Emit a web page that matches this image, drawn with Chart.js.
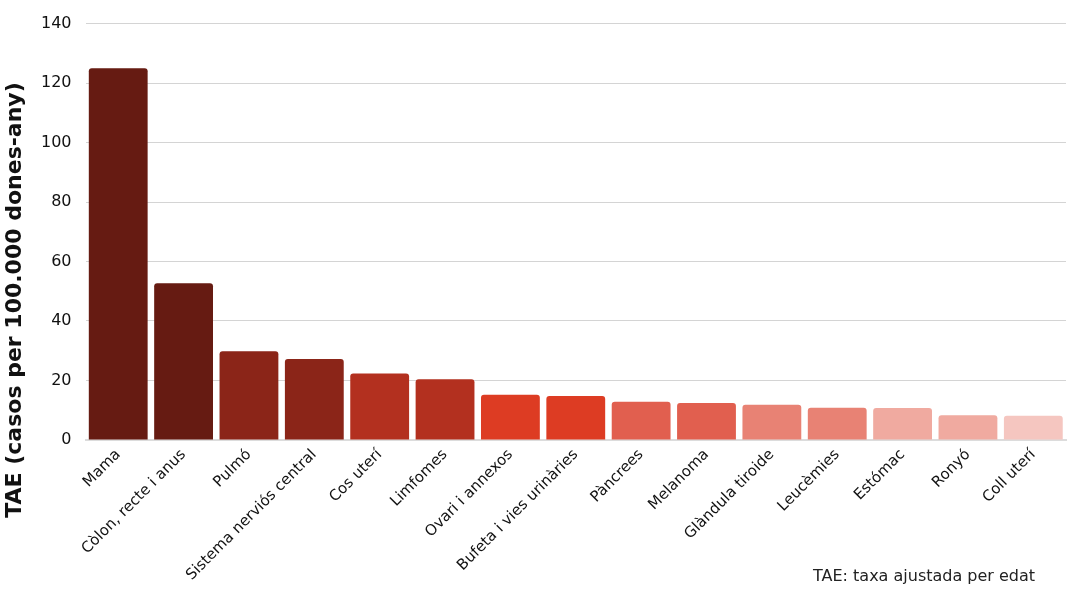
<!DOCTYPE html>
<html>
<head>
<meta charset="utf-8">
<script src="https://cdn.jsdelivr.net/npm/chart.js@4"></script>
<style>
  html, body { margin: 0; padding: 0; background: #fff; }
  #wrap { width: 1080px; height: 600px; position: relative; }
</style>
</head>
<body>
<div id="wrap"><canvas id="myChartTAE"></canvas></div>
<script>
/* global Chart */
const categories = ["Mama", "Còlon, recte i anus", "Pulmó", "Sistema nerviós central", "Cos uterí", "Limfomes", "Ovari i annexos", "Bufeta i vies urinàries", "Pàncrees", "Melanoma", "Glàndula tiroide", "Leucèmies", "Estómac", "Ronyó", "Coll uterí"];
const taeValues = [125, 52.7, 29.8, 27.2, 22.3, 20.4, 15.2, 14.8, 12.8, 12.4, 11.8, 10.8, 10.7, 8.3, 8.1];
const barColors = ["#661b12", "#661b12", "#8b2518", "#8b2518", "#b3301f", "#b3301f", "#dd3c23", "#dd3c23", "#e15f4f", "#e15f4f", "#e88274", "#e88274", "#f0aaa0", "#f0aaa0", "#f5c6c0"];
const yTitle = "TAE (casos per 100.000 dones-any)";
const footnote = "TAE: taxa ajustada per edat";

document.addEventListener("DOMContentLoaded", () => {
  const canvas = document.getElementById("myChartTAE");
  if (!(canvas instanceof HTMLCanvasElement)) return;

  // --- y title centred on the canvas + footnote bottom right ---
  const textPlugin = {
    id: "extraText",
    afterDraw(chart) {
      const ctx = chart.ctx;
      ctx.save();
      ctx.font = "bold 22px 'DejaVu Sans'";
      ctx.fillStyle = "#111";
      ctx.textAlign = "center";
      ctx.textBaseline = "middle";
      ctx.translate(15, 300);
      ctx.rotate(-Math.PI / 2);
      ctx.fillText(yTitle, 0, 0);
      ctx.restore();

      ctx.save();
      ctx.font = "16px 'DejaVu Sans'";
      ctx.fillStyle = "#222";
      ctx.textAlign = "left";
      ctx.textBaseline = "middle";
      ctx.fillText(footnote, 813, 577);
      ctx.restore();
    }
  };

  new Chart(canvas.getContext("2d"), {
    type: "bar",
    data: {
      labels: categories,
      datasets: [{
        label: "TAE",
        data: taeValues,
        backgroundColor: barColors,
        borderWidth: 0,
        borderRadius: 3,
        borderSkipped: "bottom",
        barPercentage: 0.9,
        categoryPercentage: 1
      }]
    },
    options: {
      responsive: true,
      maintainAspectRatio: false,
      animation: false,
      layout: { padding: { top: 8, right: 14, bottom: 10, left: 27 } },
      plugins: {
        legend: { display: false },
        tooltip: { enabled: false }
      },
      scales: {
        x: {
          grid: { display: false, drawTicks: false },
          border: { display: true, color: "#dcdcdc", width: 2 },
          ticks: {
            color: "#111",
            font: { family: "'DejaVu Sans'", size: 15 },
            minRotation: 45,
            maxRotation: 45,
            autoSkip: false,
            padding: 6
          }
        },
        y: {
          min: 0,
          max: 140,
          grid: { color: "#d4d4d4", drawTicks: false },
          border: { display: false },
          ticks: {
            stepSize: 20,
            color: "#111",
            font: { family: "'DejaVu Sans'", size: 16 },
            padding: 14
          }
        }
      }
    },
    plugins: [textPlugin]
  });
});
</script>
</body>
</html>
